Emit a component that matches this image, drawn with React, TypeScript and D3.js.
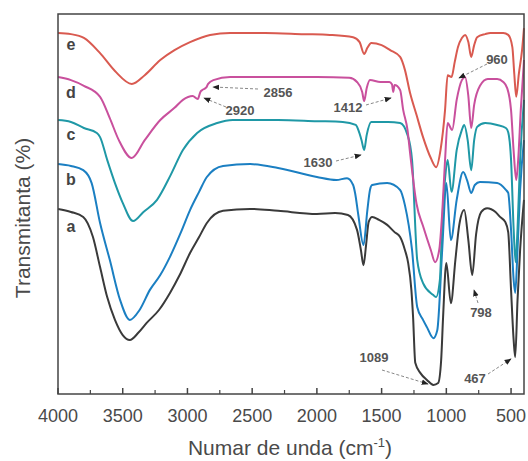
import React from "react";
import * as d3 from "d3";

// wavenumber (cm^-1) and transmittance (%, arbitrary offset units)
const waveE = [4000,3900,3800,3675,3560,3430,3330,3210,3100,2980,2825,2670,2400,2100,1900,1720,1670,1635,1610,1580,1500,1434,1357,1320,1280,1230,1180,1120,1079,1045,1010,990,960,935,910,880,855,830,808,785,762,700,660,560,522,490,475,460,440,415,400];
const transE = [95.0,94.7,93.7,89.7,85.0,81.6,83.9,87.9,90.5,92.6,94.5,95.0,95.0,94.7,94.5,93.9,92.6,89.5,91.1,92.4,91.8,90.5,88.7,85.3,79.2,73.4,67.6,62.1,59.7,64.2,74.7,83.9,83.4,87.4,91.3,93.7,94.5,92.6,88.7,91.8,93.9,94.7,95.0,95.0,94.5,91.3,84.2,78.2,84.2,90.5,96.3];

const waveD = [4000,3900,3800,3675,3600,3530,3430,3330,3210,3100,3035,2960,2920,2900,2885,2856,2840,2800,2670,2300,2000,1750,1690,1650,1635,1615,1590,1510,1440,1420,1410,1400,1357,1333,1300,1280,1230,1180,1120,1087,1055,1032,1010,990,955,920,880,855,830,808,785,740,680,607,560,530,500,480,460,445,425,400];
const transD = [83.4,82.6,81.1,78.2,72.6,66.8,62.1,66.8,72.1,75.3,77.4,78.4,77.6,79.5,80.0,80.6,81.6,82.6,83.4,83.4,83.4,83.2,82.1,79.5,77.1,80.5,82.6,82.1,82.1,81.5,79.5,81.3,80.0,74.7,69.5,63.4,50.0,44.2,37.9,34.7,37.9,47.6,61.5,71.3,69.5,77.4,82.6,83.4,78.4,70.0,76.1,81.1,82.9,82.9,82.1,80.5,74.7,63.9,56.3,61.6,74.7,87.9];

const waveC = [4000,3900,3800,3700,3675,3620,3560,3500,3420,3340,3235,3130,3035,2925,2770,2650,2300,2000,1800,1700,1680,1655,1635,1615,1580,1450,1357,1300,1265,1225,1180,1103,1080,1050,1032,1010,990,960,920,880,862,835,808,785,762,700,607,540,522,500,480,465,450,430,400];
const transC = [72.1,71.6,70.0,68.7,67.6,61.6,55.5,50.3,45.5,47.9,51.1,57.6,64.2,68.7,71.3,72.1,72.1,71.8,71.6,70.8,69.5,66.8,64.2,68.2,71.6,71.6,71.3,68.2,61.6,35.3,29.2,26.1,25.5,30.0,45.0,56.6,61.6,53.2,64.2,69.5,70.8,66.8,58.9,66.8,70.3,71.3,70.8,70.0,68.9,61.6,43.4,34.7,43.4,61.6,77.4];

const waveB = [4000,3900,3805,3740,3675,3600,3520,3445,3370,3290,3210,3135,3050,2980,2910,2850,2725,2515,2300,2000,1850,1767,1720,1705,1680,1640,1610,1590,1573,1457,1357,1320,1265,1225,1180,1150,1100,1070,1032,1000,965,920,870,840,808,780,740,607,540,522,500,480,468,450,430,400];
const transB = [60.5,60.0,58.9,55.5,45.0,35.3,24.7,19.5,22.1,27.4,31.3,36.1,42.6,48.4,53.2,57.1,60.0,60.5,59.5,57.1,56.3,56.8,55.0,52.9,47.1,39.2,48.4,53.7,55.0,55.5,53.7,49.7,37.9,22.9,19.5,17.6,14.7,16.8,37.9,55.5,40.5,51.1,58.4,56.3,52.9,55.0,55.8,55.5,53.7,52.9,43.2,30.0,26.6,37.9,53.7,66.8];

const waveA = [4000,3900,3805,3730,3675,3620,3560,3500,3445,3380,3315,3220,3135,3060,2980,2910,2850,2725,2515,2300,2000,1860,1760,1690,1660,1640,1620,1600,1573,1520,1457,1400,1357,1320,1295,1270,1257,1240,1200,1150,1100,1063,1040,1025,1000,965,930,900,862,830,800,770,730,685,620,585,545,522,500,480,468,450,430,400];
const transA = [48.7,47.9,46.6,41.3,33.4,25.5,19.5,15.5,14.2,16.1,18.7,22.1,26.6,31.3,37.1,41.3,45.0,48.2,48.7,48.2,47.4,47.6,47.1,43.2,37.9,33.9,39.2,45.3,46.6,45.8,44.5,42.6,41.3,37.9,34.5,27.4,20.3,8.2,5.5,3.7,2.4,2.9,8.9,20.3,34.5,23.9,35.3,44.5,48.4,40.5,31.3,42.1,47.9,48.9,47.9,46.6,45.3,42.6,27.4,14.2,9.7,24.7,37.9,51.1];

const seriesNames = ["a", "b", "c", "d", "e"];
const seriesColors = ["#3a3a3a", "#1b7fc2", "#1f98a6", "#c9509d", "#d95a50"];
const seriesWaves = [waveA, waveB, waveC, waveD, waveE];
const seriesTrans = [transA, transB, transC, transD, transE];

const xTicks = [4000, 3500, 3000, 2500, 2000, 1500, 1000, 500];
const xMinorTicks = [3750, 3250, 2750, 2250, 1750, 1250, 750];

// annotations: label, wavenumber of band, series index
const annoLabels = ["2920", "2856", "1412", "1630", "1089", "467", "798", "960"];

const W = 528;
const H = 461;
const left = 58, right = 524, top = 14, bottom = 394;

export default function App() {
  const x = d3.scaleLinear().domain([4000, 400]).range([left, right]);
  const y = d3.scaleLinear().domain([0, 100]).range([bottom, top]);
  const line = d3
    .line<[number, number]>()
    .x((d) => x(d[0]))
    .y((d) => y(d[1]))
    .curve(d3.curveMonotoneX);

  const textCol = "#4a4a4a";
  const arrowCol = "#888";

  // annotation geometry: text pos [wavenumber, value], arrow from -> to
  const annos: { t: string; tx: number; ty: number; from: [number, number]; to: [number, number] }[] = [
    { t: annoLabels[0], tx: 240, ty: 115, from: [226, 107], to: [204, 98] },
    { t: annoLabels[1], tx: 278, ty: 97, from: [258, 89], to: [213, 87] },
    { t: annoLabels[2], tx: 348, ty: 112, from: [366, 105], to: [391, 98] },
    { t: annoLabels[3], tx: 318, ty: 167, from: [336, 161], to: [361, 155] },
    { t: annoLabels[4], tx: 374, ty: 362, from: [382, 370], to: [428, 384] },
    { t: annoLabels[5], tx: 475, ty: 383, from: [488, 374], to: [511, 359] },
    { t: annoLabels[6], tx: 481, ty: 317, from: [478, 303], to: [474, 290] },
    { t: annoLabels[7], tx: 497, ty: 64, from: [487, 64], to: [459, 78] },
  ];

  const labelY = [227, 180, 135, 93, 45];

  return (
    <svg width={W} height={H} style={{ position: "absolute", left: 0, top: 0, background: "#fff" }} fontFamily="'Liberation Sans', Arial, sans-serif">
      <defs>
        <marker id="ah" viewBox="0 0 10 10" refX="9" refY="5" markerWidth="7" markerHeight="7" orient="auto">
          <path d="M0,1 L10,5 L0,9 Z" fill="#222" />
        </marker>
      </defs>
      {/* curves */}
      {seriesNames.map((n, i) => {
        const pts: [number, number][] = seriesWaves[i].map((w, j) => [w, seriesTrans[i][j]]);
        return <path key={n} d={line(pts) || ""} fill="none" stroke={seriesColors[i]} strokeWidth={2} strokeLinejoin="round" />;
      })}
      {/* frame */}
      <rect x={left} y={top} width={right - left} height={bottom - top} fill="none" stroke="#444" strokeWidth={1.5} />
      {xTicks.map((t) => (
        <g key={t}>
          <line x1={x(t)} x2={x(t)} y1={bottom} y2={bottom - 6} stroke="#444" strokeWidth={1.5} />
          <text x={x(t)} y={422} textAnchor="middle" fontSize={18} fill={textCol}>{t}</text>
        </g>
      ))}
      {xMinorTicks.map((t) => (
        <line key={t} x1={x(t)} x2={x(t)} y1={bottom} y2={bottom - 4} stroke="#444" strokeWidth={1.2} />
      ))}
      {/* series labels */}
      {seriesNames.map((n, i) => (
        <text key={n} x={71} y={labelY[i] + 5} textAnchor="middle" fontSize={16} fontWeight="bold" fill="#444">{n}</text>
      ))}
      {/* annotations */}
      {annos.map((a) => (
        <g key={a.t}>
          <line x1={a.from[0]} y1={a.from[1]} x2={a.to[0]} y2={a.to[1]} stroke={arrowCol} strokeWidth={1} strokeDasharray="3,2" markerEnd="url(#ah)" />
          <text x={a.tx} y={a.ty} textAnchor="middle" fontSize={13} fontWeight="bold" fill="#555">{a.t}</text>
        </g>
      ))}
      {/* axis titles */}
      <text x={290} y={455} textAnchor="middle" fontSize={21} fill={textCol}>
        Numar de unda (cm<tspan dy={-8} fontSize={13}>-1</tspan><tspan dy={8}>)</tspan>
      </text>
      <text transform={`translate(30,218) rotate(-90)`} textAnchor="middle" fontSize={21} fill={textCol}>Transmitanta (%)</text>
    </svg>
  );
}
